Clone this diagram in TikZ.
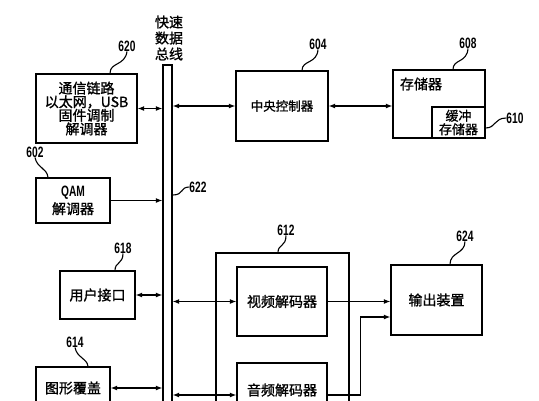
\documentclass[tikz,border=0pt]{standalone}
\usepackage{fontspec}
\usetikzlibrary{arrows.meta}
\newfontfamily\cjk{Noto Sans CJK SC}[FakeBold=1.2]
\newfontfamily\numf{Liberation Sans}[FakeStretch=0.68]
\begin{document}
\begin{tikzpicture}[x=1pt,y=-1pt,
  box/.style={draw,line width=1.3pt,inner sep=0pt,align=center,font=\cjk\fontsize{14}{14}\selectfont},
  lbl/.style={inner sep=0pt,font=\numf\bfseries\fontsize{15}{15}\selectfont},
  arr/.style={line width=1.2pt,-{Latex[length=6.5pt,width=5pt]}},
  dbl/.style={line width=1.2pt,{Latex[length=6.5pt,width=5pt]}-{Latex[length=6.5pt,width=5pt]}},
  sq/.style={line width=1.1pt}]
\useasboundingbox (0,0) rectangle (539,400);
\clip (0,0) rectangle (539,400);
% bus
\node[draw,line width=1.3pt,minimum width=9pt,minimum height=345pt,inner sep=0pt] (bus) at (167.5,237.5) {};
\node[align=center,inner sep=0pt,font=\cjk\fontsize{14}{16}\selectfont] (title) at (169,38) {快速\\数据\\总线};
% left boxes
\node[box,minimum width=101pt,minimum height=69pt,font=\cjk\fontsize{14}{13.6}\selectfont] (n620) at (86.5,108.5) {通信链路\\以太网，USB\\固件调制\\解调器};
\node[box,minimum width=74pt,minimum height=45pt] (n602) at (73,200.5) {{\numf\bfseries\fontsize{15}{15}\selectfont QAM}\\[2pt]解调器};
\node[box,minimum width=75pt,minimum height=48pt] (n618) at (97.5,295) {用户接口};
\node[box,minimum width=74pt,minimum height=42pt] (n614) at (73,388) {图形覆盖};
% right boxes
\node[box,minimum width=92pt,minimum height=70pt,font=\cjk\fontsize{12.5}{13}\selectfont] (n604) at (282,106) {中央控制器};
\node[box,minimum width=92pt,minimum height=68pt] (n608) at (439,104) {};
\node[inner sep=0pt,font=\cjk\fontsize{14}{14}\selectfont] (t608) at (421,84) {存储器};
\node[box,minimum width=53pt,minimum height=31pt,font=\cjk\fontsize{13}{13.5}\selectfont] (n610) at (458.5,122.5) {缓冲\\存储器};
\node[box,minimum width=133pt,minimum height=187pt] (n612) at (282.5,346.5) {};
\node[box,minimum width=90pt,minimum height=69pt] (vid) at (282,301.5) {视频解码器};
\node[box,minimum width=90pt,minimum height=64pt] (aud) at (282,395) {};
\node[inner sep=0pt,font=\cjk\fontsize{14}{14}\selectfont] (taud) at (282,390) {音频解码器};
\node[box,minimum width=91pt,minimum height=70pt] (n624) at (436.5,300) {输出装置};
% labels
\node[lbl] (l620) at (127,46) {620};
\node[lbl] (l602) at (35,152) {602};
\node[lbl] (l618) at (123,248) {618};
\node[lbl] (l614) at (75,342) {614};
\node[lbl] (l604) at (318,44) {604};
\node[lbl] (l608) at (468,43) {608};
\node[lbl] (l610) at (515,118) {610};
\node[lbl] (l622) at (198,187) {622};
\node[lbl] (l612) at (286,230) {612};
\node[lbl] (l624) at (465,236) {624};
% squiggles
\draw[sq] (n620.north -| 110,0) .. controls (110,62) and (125,66) .. (l620.south);
\draw[sq] (l602.south) .. controls (37,168) and (47,168) .. (n602.north -| 48,0);
\draw[sq] (n618.north -| 115,0) .. controls (115,262) and (123,264) .. (l618.south);
\draw[sq] (l614.south) .. controls (77,358) and (87,358) .. (n614.north -| 88,0);
\draw[sq] (n604.north -| 302,0) .. controls (302,60) and (317,64) .. (l604.south);
\draw[sq] (n608.north -| 453,0) .. controls (453,59) and (467,63) .. (l608.south);
\draw[sq] (n610.east |- 0,128) .. controls (496,128) and (494,118) .. (l610.west);
\draw[sq] (bus.east |- 0,195) .. controls (184,195) and (180,187) .. (l622.west);
\draw[sq] (n612.north -| 278,0) .. controls (278,244) and (286,247) .. (l612.south);
\draw[sq] (n624.north -| 450,0) .. controls (450,252) and (465,254) .. (l624.south);
% connectors
\draw[dbl] (n620.east) -- (n620.east -| bus.west);
\draw[arr] (n602.east) -- (n602.east -| bus.west);
\draw[dbl] (n618.east) -- (n618.east -| bus.west);
\draw[dbl] (n614.east) -- (n614.east -| bus.west);
\draw[dbl] (bus.east |- n604.west) -- (n604.west);
\draw[dbl] (n604.east) -- (n604.east -| n608.west);
\draw[dbl] (bus.east |- vid.west) -- (vid.west);
\draw[dbl] (bus.east |- aud.west) -- (aud.west);
\draw[arr] (vid.east) -- (vid.east -| n624.west);
\draw[arr] (aud.east) -| ([xshift=-30pt,yshift=-17pt]n624.west) -- ([yshift=-17pt]n624.west);
\end{tikzpicture}
\end{document}
